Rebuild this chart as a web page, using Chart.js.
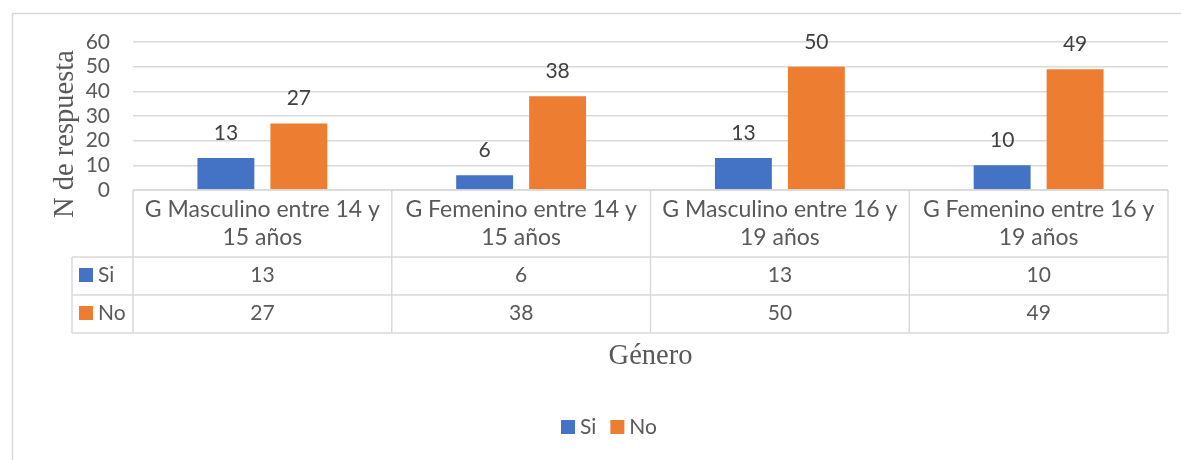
<!DOCTYPE html>
<html>
<head>
<meta charset="utf-8">
<script src="https://cdn.jsdelivr.net/npm/chart.js@4.4.0/dist/chart.umd.min.js"></script>
<style>
  html, body { margin: 0; padding: 0; background: #fff; }
  #wrap { width: 1181px; height: 460px; position: relative; }
</style>
</head>
<body>
<div id="wrap"><canvas id="grafico" width="1181" height="460"></canvas></div>
<script>
// Datos de la encuesta
const categorias = [
  ['G Masculino entre 14 y', '15 años'],
  ['G Femenino entre 14 y', '15 años'],
  ['G Masculino entre 16 y', '19 años'],
  ['G Femenino entre 16 y', '19 años']
];
const series = ['Si', 'No'];
const valoresSi = [13, 6, 13, 10];
const valoresNo = [27, 38, 50, 49];
const colores = ['#4472C4', '#ED7D31'];
const marcasY = [0, 10, 20, 30, 40, 50, 60];

const gris = '#595959';
const linea = '#D9D9D9';
const fuente = 'Lato, "Open Sans", sans-serif';
const fuenteTitulo = '"Liberation Serif", "Times New Roman", serif';

// Tabla de datos, etiquetas, títulos y leyenda dibujados sobre el canvas
const tablaPlugin = {
  id: 'tabla',
  beforeDraw(chart) {
    const ctx = chart.ctx;
    ctx.save();
    ctx.strokeStyle = linea;
    ctx.lineWidth = 1.5;
    ctx.strokeRect(12.5, 13.5, 1200, 460);
    ctx.restore();
  },
  afterDatasetsDraw(chart) {
    const ctx = chart.ctx;
    ctx.save();
    ctx.font = '21px ' + fuente;
    ctx.fillStyle = '#404040';
    ctx.textAlign = 'center';
    ctx.textBaseline = 'alphabetic';
    chart.data.datasets.forEach((ds, i) => {
      chart.getDatasetMeta(i).data.forEach((bar, j) => {
        ctx.fillText(String(ds.data[j]), bar.x, bar.y - 18);
      });
    });
    ctx.restore();
  },
  afterDraw(chart) {
    const ctx = chart.ctx;
    const area = chart.chartArea;
    const x = chart.scales.x;
    const n = categorias.length;
    const ancho = (area.right - area.left) / n;
    const y0 = area.bottom;
    const yCab = y0 + 67;
    const ySi = yCab + 38;
    const yNo = ySi + 38;
    const izq = 72;

    ctx.save();
    ctx.strokeStyle = linea;
    ctx.lineWidth = 1.5;
    ctx.beginPath();
    ctx.moveTo(area.left, y0); ctx.lineTo(area.right, y0);
    [yCab, ySi, yNo].forEach(yy => { ctx.moveTo(izq, yy); ctx.lineTo(area.right, yy); });
    for (let i = 0; i <= n; i++) {
      const xx = area.left + i * ancho;
      ctx.moveTo(xx, y0); ctx.lineTo(xx, yNo);
    }
    ctx.moveTo(izq, yCab); ctx.lineTo(izq, yNo);
    ctx.stroke();

    // encabezados y valores
    ctx.fillStyle = gris;
    ctx.textAlign = 'center';
    ctx.textBaseline = 'alphabetic';
    categorias.forEach((cat, i) => {
      const cx = x.getPixelForValue(i);
      ctx.font = '23px ' + fuente;
      ctx.fillText(cat[0], cx, y0 + 27);
      ctx.fillText(cat[1], cx, y0 + 55);
      ctx.font = '21px ' + fuente;
      ctx.fillText(String(valoresSi[i]), cx, y0 + 92);
      ctx.fillText(String(valoresNo[i]), cx, y0 + 130);
    });

    // claves de serie en la tabla
    ctx.textAlign = 'left';
    ctx.font = '21px ' + fuente;
    [y0 + 92, y0 + 130].forEach((base, k) => {
      ctx.fillStyle = colores[k];
      ctx.fillRect(79, base - 14, 14, 14);
      ctx.fillStyle = gris;
      ctx.fillText(series[k], 98, base);
    });

    // título del eje X
    ctx.font = '28.5px ' + fuenteTitulo;
    ctx.textAlign = 'center';
    ctx.fillText('Género', (area.left + area.right) / 2, 364);

    // título del eje Y
    ctx.save();
    ctx.translate(73, 134);
    ctx.rotate(-Math.PI / 2);
    ctx.fillText('N de respuesta', 0, 0);
    ctx.restore();

    // leyenda inferior
    ctx.font = '21px ' + fuente;
    ctx.textAlign = 'left';
    const anchos = series.map(s => ctx.measureText(s).width);
    const total = 14 + 5 + anchos[0] + 14 + 14 + 5 + anchos[1];
    let lx = 609 - total / 2;
    series.forEach((s, k) => {
      ctx.fillStyle = colores[k];
      ctx.fillRect(lx, 420, 14, 14);
      ctx.fillStyle = gris;
      ctx.fillText(s, lx + 19, 434);
      lx += 19 + anchos[k] + 14;
    });
    ctx.restore();
  }
};

new Chart(document.getElementById('grafico'), {
  type: 'bar',
  data: {
    labels: categorias.map(c => c.join(' ')),
    datasets: [
      { label: series[0], data: valoresSi, backgroundColor: colores[0] },
      { label: series[1], data: valoresNo, backgroundColor: colores[1] }
    ]
  },
  options: {
    responsive: false,
    animation: false,
    events: [],
    categoryPercentage: 0.564,
    barPercentage: 0.78,
    layout: { padding: { left: 12, right: 13, top: 42, bottom: 270 } },
    plugins: {
      legend: { display: false },
      tooltip: { enabled: false }
    },
    scales: {
      x: { display: false },
      y: {
        min: 0,
        max: 60,
        afterFit(scale) { scale.width = 121; },
        afterBuildTicks(scale) { scale.ticks = marcasY.map(v => ({ value: v })); },
        ticks: { color: gris, font: { family: fuente, size: 21 }, padding: 23, autoSkip: false },
        grid: { color: linea, lineWidth: 1.5, drawTicks: false },
        border: { display: false }
      }
    }
  },
  plugins: [tablaPlugin]
});
</script>
</body>
</html>
